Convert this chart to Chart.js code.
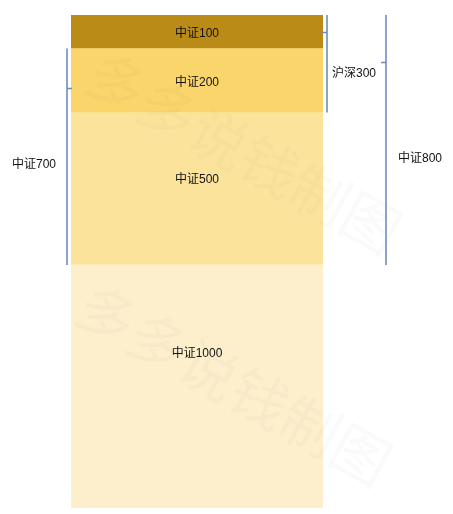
<!DOCTYPE html>
<html>
<head>
<meta charset="utf-8">
<script src="https://cdn.jsdelivr.net/npm/chart.js@4"></script>
<style>
  html, body { margin: 0; padding: 0; background: #fff; }
  #wrap { width: 453px; height: 514px; }
</style>
</head>
<body>
<div id="wrap"><canvas id="chart"></canvas></div>
<script>
// segments, top to bottom (share of total)
const segNames = ['中证100', '中证200', '中证500', '中证1000'];
const segValues = [6.8, 13.0, 30.9, 49.3];
const segColors = ['#BB8B18', '#FAD56B', '#FCE39C', '#FDEFCB'];

// groups drawn as brackets: first and last segment index
const groupNames = ['沪深300', '中证800', '中证700'];
const groupFrom = [0, 0, 1];
const groupTo = [1, 2, 2];

const total = segValues.reduce((a, b) => a + b, 0);

// cumulative top/bottom for each segment (stacked from bottom)
function segTop(i) {
    let s = 0;
    for (let k = i; k < segValues.length; k++) s += segValues[k];
    return s;
}
function segBottom(i) {
    return segTop(i) - segValues[i];
}

// bracket styling: side, x offset from bar edge, where the tick and label sit (0..1 from top)
const bracketStyle = [
    {side: 'right', off: 4, tick: 0.18, label: 0.59, labelX: 27},
    {side: 'right', off: 63, tick: 0.19, label: 0.57, labelX: 34},
    {side: 'left', off: 4, tick: 0.185, label: 0.53, labelX: -33}
];
// label position inside each segment (0..1 from top)
const labelPos = [0.53, 0.52, 0.435, 0.36];

const FONT = '12px "Liberation Sans", "Noto Sans CJK SC", sans-serif';

const bracketPlugin = {
    id: 'brackets',
    afterDatasetsDraw(chart) {
        const ctx = chart.ctx;
        const y = chart.scales.y;
        const meta = chart.getDatasetMeta(0).data[0];
        const left = meta.x - meta.width / 2;
        const right = meta.x + meta.width / 2;
        ctx.save();
        // watermark
        ctx.font = '58px "Noto Sans CJK SC", sans-serif';
        ctx.fillStyle = 'rgba(120,120,120,0.04)';
        ctx.textAlign = 'left';
        ctx.textBaseline = 'middle';
        [[92, 68], [82, 300]].forEach(p => {
            ctx.save();
            ctx.translate(p[0], p[1]);
            ctx.rotate(29 * Math.PI / 180);
            ctx.fillText('多多说钱制图', 0, 0);
            ctx.restore();
        });
        ctx.font = FONT;
        ctx.fillStyle = '#111';
        ctx.textAlign = 'center';
        // segment labels
        segNames.forEach((n, i) => {
            const yt = y.getPixelForValue(segTop(i));
            const yb = y.getPixelForValue(segBottom(i));
            ctx.fillText(n, meta.x, yt + (yb - yt) * labelPos[i] + 1);
        });
        // brackets
        ctx.strokeStyle = '#6E8FB8';
        ctx.lineWidth = 1.6;
        groupNames.forEach((n, g) => {
            const st = bracketStyle[g];
            const yt = y.getPixelForValue(segTop(groupFrom[g]));
            const yb = y.getPixelForValue(segBottom(groupTo[g]));
            const x = st.side === 'right' ? right + st.off : left - st.off;
            const dir = st.side === 'right' ? -1 : 1;
            const ty = yt + (yb - yt) * st.tick;
            ctx.beginPath();
            ctx.moveTo(x, yt);
            ctx.lineTo(x, yb);
            ctx.moveTo(x, ty);
            ctx.lineTo(x + dir * 5, ty);
            ctx.stroke();
            ctx.fillText(n, x + st.labelX, yt + (yb - yt) * st.label + 1);
        });
        ctx.restore();
    }
};

// bottom segment first so 中证100 ends up on top
const datasets = segNames.map((n, i) => ({
    label: n,
    data: [segValues[i]],
    backgroundColor: segColors[i],
    borderWidth: 0,
    barPercentage: 1,
    categoryPercentage: 1
})).reverse();

new Chart(document.getElementById('chart'), {
    type: 'bar',
    data: {labels: [''], datasets: datasets},
    options: {
        responsive: true,
        maintainAspectRatio: false,
        animation: false,
        layout: {padding: {left: 71, right: 130, top: 15, bottom: 6}},
        plugins: {legend: {display: false}, tooltip: {enabled: false}},
        scales: {
            x: {stacked: true, display: false},
            y: {stacked: true, display: false, min: 0, max: total}
        }
    },
    plugins: [bracketPlugin]
});
</script>
</body>
</html>
